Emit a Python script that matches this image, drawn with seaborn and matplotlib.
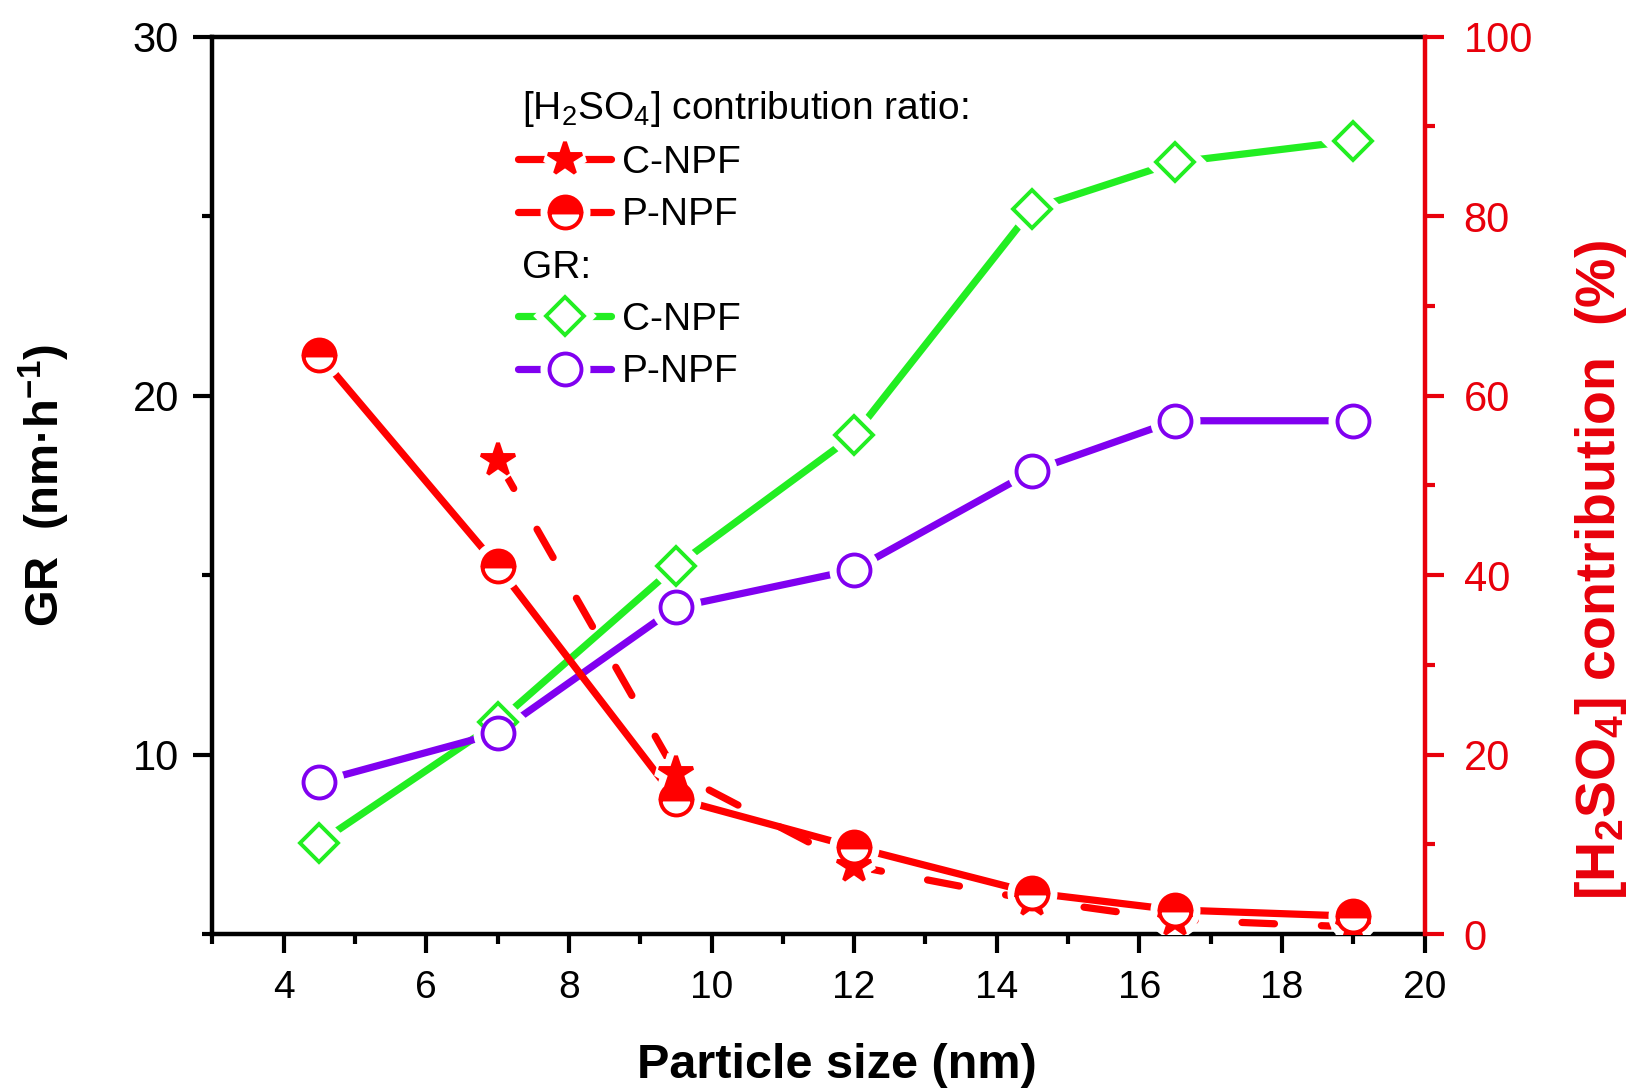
import matplotlib
matplotlib.use("Agg")
import matplotlib.pyplot as plt
import seaborn as sns
from matplotlib.lines import Line2D
from matplotlib.legend_handler import HandlerTuple
from matplotlib.ticker import MultipleLocator

# values
size_gr = [4.5, 7, 9.5, 12, 14.5, 16.5, 19]
gr_c_npf = [7.55, 10.9, 15.25, 18.9, 25.2, 26.5, 27.1]
gr_p_npf = [9.25, 10.6, 14.1, 15.15, 17.9, 19.3, 19.3]

size_ratio_c = [7, 9.5, 12, 14.5, 16.5, 19]
ratio_c_npf = [52.8, 18.0, 7.6, 3.8, 1.6, 0.8]
size_ratio_p = [4.5, 7, 9.5, 12, 14.5, 16.5, 19]
ratio_p_npf = [64.5, 41.0, 15.1, 9.7, 4.6, 2.7, 2.0]

RED = "#FF0000"
AXRED = "#E8000B"
GREEN = "#22EE22"
PURPLE = "#8000F0"
LW = 5.2
DASH = (0, (4.5, 6.5))

sns.set_style("ticks")
plt.rcParams["font.family"] = ["Liberation Sans", "DejaVu Sans"]
plt.rcParams["mathtext.default"] = "regular"
plt.rcParams["text.color"] = "black"
plt.rcParams["axes.labelcolor"] = "black"
plt.rcParams["xtick.color"] = "black"
plt.rcParams["ytick.color"] = "black"

fig = plt.figure(figsize=(16.4, 10.9), dpi=100)
ax = fig.add_axes([0.1295, 0.143, 0.7392, 0.8234])
ax2 = ax.twinx()


def marker_kw(color, marker, ms, style):
    kw = dict(ls="none", marker=marker, ms=ms, mec=color, mew=2.8)
    if style == "open":
        kw.update(mfc="white")
    elif style == "half":
        kw.update(mfc=color, fillstyle="top", markerfacecoloralt="white")
    else:
        kw.update(mfc=color)
    return kw


def draw_series(axis, x, y, color, marker, ms, style, ls="-"):
    sns.lineplot(x=x, y=y, ax=axis, color=color, lw=LW, linestyle=ls,
                 dash_capstyle="round", solid_capstyle="round", zorder=2)
    # white halo gives the small gap between line and marker
    axis.plot(x, y, ls="none", marker=marker, ms=ms, mfc="white", mec="white",
              mew=13, zorder=3)
    axis.plot(x, y, zorder=4, **marker_kw(color, marker, ms, style))


def legend_handle(color, marker, ms, style):
    line = Line2D([], [], color=color, lw=LW, solid_capstyle="round")
    halo = Line2D([], [], ls="none", marker=marker, ms=ms, mfc="white",
                  mec="white", mew=13)
    mk = Line2D([], [], **marker_kw(color, marker, ms, style))
    return (line, halo, mk)


# GR (left axis)
draw_series(ax, size_gr, gr_c_npf, GREEN, "D", 19, "open")
draw_series(ax, size_gr, gr_p_npf, PURPLE, "o", 23, "open")

# H2SO4 contribution (right axis)
draw_series(ax2, size_ratio_c, ratio_c_npf, RED, "*", 25, "full", ls=DASH)
draw_series(ax2, size_ratio_p, ratio_p_npf, RED, "o", 23, "half")

ax.set_xlim(3, 20)
ax.set_ylim(5, 30)
ax2.set_ylim(0, 100)
ax.xaxis.set_major_locator(MultipleLocator(2))
ax.xaxis.set_minor_locator(MultipleLocator(1))
ax.yaxis.set_major_locator(MultipleLocator(10))
ax.yaxis.set_minor_locator(MultipleLocator(5))
ax2.yaxis.set_major_locator(MultipleLocator(20))
ax2.yaxis.set_minor_locator(MultipleLocator(10))

for s in ["left", "bottom", "top"]:
    ax.spines[s].set_linewidth(3.2)
    ax.spines[s].set_color("black")
ax.spines["right"].set_visible(False)
for s in ["left", "bottom", "top"]:
    ax2.spines[s].set_visible(False)
ax2.spines["right"].set_linewidth(3.2)
ax2.spines["right"].set_color(AXRED)

ax.tick_params(which="major", length=14, width=3, direction="out",
               color="black", labelcolor="black", top=False, right=False)
ax.tick_params(which="minor", length=7, width=3, direction="out",
               top=False, right=False)
ax.tick_params(axis="x", labelsize=28, pad=12)
ax.tick_params(axis="y", labelsize=30, pad=10)
ax2.tick_params(which="major", length=14, width=3, direction="out",
                color=AXRED, labelcolor=AXRED, labelsize=30, pad=14)
ax2.tick_params(which="minor", length=7, width=3, direction="out",
                color=AXRED)

ax.set_xlabel("Particle size (nm)", fontsize=35, fontweight="bold")
ax.xaxis.set_label_coords(0.515, -0.121)
ax.set_ylabel("GR  (nm·h$^{-1}$)", fontsize=34, fontweight="bold", labelpad=44)
ax2.set_ylabel("[H$_2$SO$_4$] contribution  (%)", fontsize=40,
               fontweight="bold", color=AXRED)
ax2.yaxis.set_label_coords(1.122, 0.4056)

# legend with two header rows
blank = Line2D([], [], ls="none")
handles = [
    blank,
    legend_handle(RED, "*", 25, "full"),
    legend_handle(RED, "o", 23, "half"),
    blank,
    legend_handle(GREEN, "D", 19, "open"),
    legend_handle(PURPLE, "o", 23, "open"),
]
labels = ["[H$_2$SO$_4$] contribution ratio:", "C-NPF", "P-NPF",
          "GR:", "C-NPF", "P-NPF"]
HL, HTP, FS = 2.4, 0.27, 28
leg = ax2.legend(handles, labels, loc="upper left", bbox_to_anchor=(0.252, 0.942),
                 frameon=False, fontsize=FS, handlelength=HL, handletextpad=HTP,
                 labelspacing=0.42, borderpad=0, borderaxespad=0,
                 handler_map={tuple: HandlerTuple(ndivide=1, pad=0)})
shift = (HL + HTP) * FS * fig.dpi / 72 - 4
for i in (0, 3):
    leg.texts[i].set_x(-shift)

fig.savefig("out.png", dpi=100)
